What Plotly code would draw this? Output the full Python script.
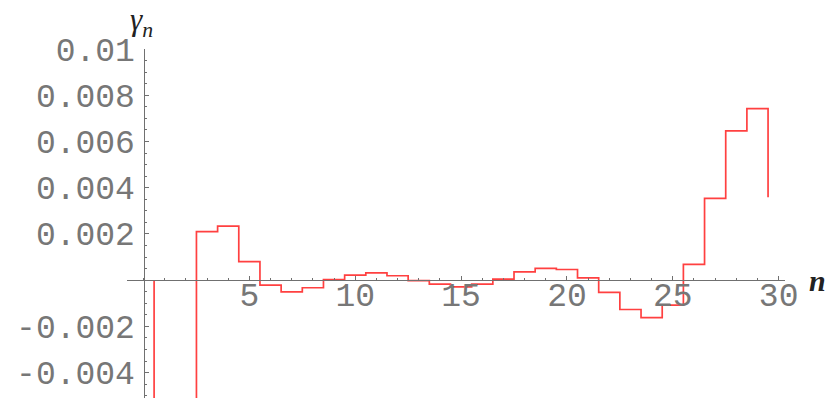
import plotly.graph_objects as go

# Sequence index n and the coefficients gamma_n (n = 1..30)
n_vals = list(range(1, 31))
gamma_vals = [
    -0.030, -0.012, 0.00210, 0.00234, 0.00080,
    -0.00022, -0.00051, -0.00033, 0.00002, 0.00022,
    0.00031, 0.00019, -0.00002, -0.00017, -0.00029,
    -0.00017, 0.00004, 0.00036, 0.00051, 0.00046,
    0.00010, -0.00053, -0.00127, -0.00162, -0.00108,
    0.00068, 0.00354, 0.00646, 0.00742, 0.00359,
]

x_tick_vals = [5, 10, 15, 20, 25, 30]
y_tick_vals = [-0.004, -0.002, 0.002, 0.004, 0.006, 0.008, 0.01]
y_tick_text = ["-0.004", "-0.002", "0.002", "0.004", "0.006", "0.008", "0.01"]

# Step path: each gamma_n is held over [n-0.5, n+0.5]; the path starts on the axis
step_x = [0.5] + [n - 0.5 for n in n_vals]
step_y = [0.0] + gamma_vals

x_range = [-0.78, 30.3]
y_range = [-0.0051, 0.01]

W, H = 828, 398
ml, mr, mt, mb = 127, 43, 49, 0
pw = W - ml - mr
ph = H - mt - mb

tick_font = dict(family="Liberation Mono, Courier New, monospace", size=33, color="#777777")
axis_col = "#707070"

fig = go.Figure()
fig.add_trace(go.Scatter(
    x=step_x, y=step_y, mode="lines",
    line=dict(color="rgba(255,30,30,0.85)", width=1.7, shape="hv"),
    hoverinfo="skip", showlegend=False,
))

fig.update_layout(
    width=W, height=H,
    margin=dict(l=ml, r=mr, t=mt, b=mb, pad=0),
    paper_bgcolor="white", plot_bgcolor="white",
    showlegend=False,
    xaxis=dict(
        range=x_range, showgrid=False, zeroline=False,
        anchor="free", position=(0 - y_range[0]) / (y_range[1] - y_range[0]),
        showline=True, linecolor=axis_col, linewidth=1,
        tickmode="array", tickvals=x_tick_vals,
        ticks="inside", ticklen=4, tickcolor=axis_col, tickwidth=1,
        minor=dict(dtick=1, tick0=0, ticks="inside", ticklen=2, tickcolor=axis_col),
        tickfont=tick_font, ticklabelstandoff=-15, automargin=False,
    ),
    yaxis=dict(
        range=y_range, showgrid=False, zeroline=False,
        anchor="free", position=(0 - x_range[0]) / (x_range[1] - x_range[0]),
        showline=True, linecolor=axis_col, linewidth=1,
        tickmode="array", tickvals=y_tick_vals, ticktext=y_tick_text,
        ticks="inside", ticklen=4, tickcolor=axis_col, tickwidth=1,
        minor=dict(dtick=0.0005, tick0=0, ticks="inside", ticklen=2, tickcolor=axis_col),
        tickfont=tick_font, ticklabelstandoff=2, automargin=False,
    ),
    annotations=[
        dict(x=817, y=H - 280, xref="paper", yref="paper", text="<i><b>n</b></i>",
             showarrow=False, xanchor="center", yanchor="middle",
             font=dict(family="Liberation Serif, Times New Roman, serif", size=30, color="#222222")),
        dict(x=141, y=H - 22, xref="paper", yref="paper", text="<i>γ<sub>n</sub></i>",
             showarrow=False, xanchor="center", yanchor="middle",
             font=dict(family="Liberation Serif, Times New Roman, serif", size=31, color="#222222")),
    ],
)

# Convert pixel-placed annotations to paper fractions
for ann in fig.layout.annotations:
    ann.x = (ann.x - ml) / pw
    ann.y = (ann.y - mb) / ph

fig.write_html("out.html")
